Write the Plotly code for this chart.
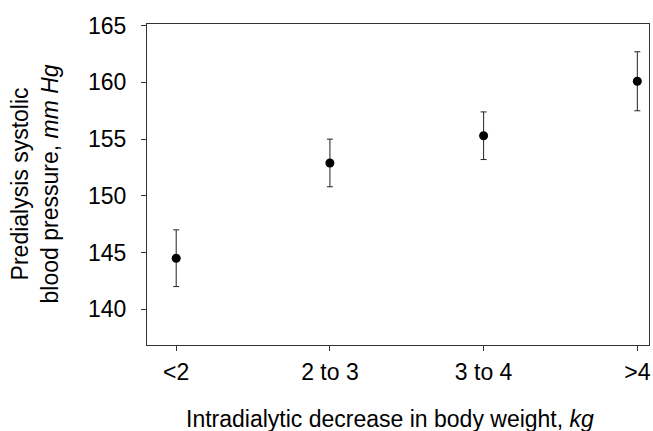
import plotly.graph_objects as go

categories = ["<2", "2 to 3", "3 to 4", ">4"]
sbp_mean = [144.5, 152.9, 155.3, 160.1]
sbp_err = [2.5, 2.1, 2.1, 2.6]
y_ticks = [140, 145, 150, 155, 160, 165]

FONT = "Liberation Sans, Arial, Helvetica, sans-serif"
W, H = 653, 431
L, R, T, B = 147, 2, 24, 86
pw, ph = W - L - R, H - T - B

fig = go.Figure(go.Scatter(
    x=list(range(len(categories))), y=sbp_mean, mode="markers",
    marker=dict(color="black", size=9),
    error_y=dict(type="data", array=sbp_err, visible=True, color="#222", thickness=1, width=3),
    showlegend=False,
))

fig.update_layout(
    width=W, height=H,
    margin=dict(l=L, r=R, t=T, b=B),
    plot_bgcolor="white", paper_bgcolor="white",
    font=dict(family=FONT, size=23, color="black"),
    xaxis=dict(
        range=[-0.19, 3.076], tickmode="array",
        tickvals=list(range(len(categories))), ticktext=categories,
        showline=True, mirror=True, linecolor="#333", linewidth=1,
        ticks="outside", ticklen=5, tickcolor="#333", showgrid=False, zeroline=False,
        ticklabelstandoff=1,
    ),
    yaxis=dict(
        range=[136.85, 165.15], tickmode="array", tickvals=y_ticks,
        showline=True, mirror=True, linecolor="#333", linewidth=1,
        ticks="outside", ticklen=5, tickcolor="#333", showgrid=False, zeroline=False,
        ticklabelstandoff=10,
    ),
    annotations=[
        dict(text="Intradialytic decrease in body weight, <i>kg</i>",
             x=(391 - L) / pw, y=(H - B - 419) / ph, xref="paper", yref="paper",
             xanchor="center", yanchor="middle", showarrow=False),
        dict(text="Predialysis systolic<br>blood pressure, <i>mm Hg</i>", textangle=-90,
             x=(35 - L) / pw, y=(H - B - 184) / ph, xref="paper", yref="paper",
             xanchor="center", yanchor="middle", showarrow=False),
    ],
)

fig.write_html("out.html", config={"displayModeBar": False},
               post_script="document.body.style.margin='0';document.body.style.overflow='hidden';")
